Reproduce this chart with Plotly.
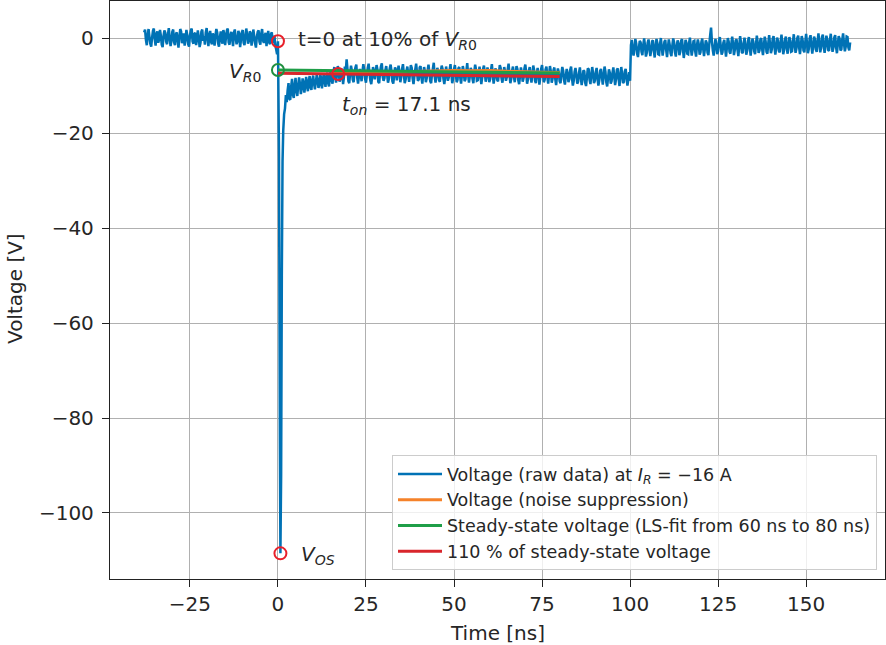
import plotly.graph_objects as go

# ---------------- data ----------------
t_step = 0.25  # sampling interval of the raw trace [ns]

# raw voltage before the switching event (ends at t = -0.25 ns)
t_pre_end = -0.25
v_pre = [1.2, 1.8, -0.4, -1.5, 0.6, 1.9, 0.3, -1.2, -1.8, 0.1, 1.5, 2.0, -0.2, -1.6, 0.9, 1.4, -1.0, -0.3, 1.7, 0.5,
         -1.4, -1.9, 0.4, 1.6, 1.1, -0.8, -1.3, 0.7, 2.1, 0.0, -1.7, -0.6, 1.3, 1.8, -0.9, -1.5, 0.8, 1.2, -0.5, -2.0,
         0.3, 1.9, 1.4, -1.1, -0.4, 1.0, -1.6, -0.2, 1.7, 0.6, -1.3, -1.8, 0.5, 1.5, 2.0, -0.7, -1.2, 0.9, 1.1, -1.5,
         -0.3, 1.6, 0.2, -1.9, -1.0, 1.3, 1.8, -0.6, 0.4, -1.4, 1.2, 2.1, -0.1, -1.7, 0.7, 1.5, -0.8, -1.3, 1.0, 0.3,
         -1.6, 0.5, 1.9, 1.2, -1.1, -1.8, 0.1, 1.4, -0.5, -1.2, 1.7, 0.8, -1.5, 0.2, 1.6, 2.0, -0.9, -1.4, 0.6, 1.3,
         -0.2, -1.7, 1.1, 1.8, 0.0, -1.3, -0.7, 1.5, 0.9, -1.9, -0.4, 1.2, 1.7, -1.0, -1.5, 0.4, 2.0, 0.7, -1.2, -0.6,
         1.4, 1.0, -1.6, -0.3, 1.8, 0.5, -1.1, -2.0, 0.2, 1.3, 1.6, -0.8, -1.4, 0.9, 1.9, -0.5, -1.0, 0.6, 1.1, -1.7,
         0.3, 1.5, -0.9, -1.3, 0.8, 1.2, -1.1, -0.4, 0.5, -1.6, -2.4, -3.4]

# switching spike
t_spike = [0.0, 0.3, 0.55, 0.7, 0.9, 1.1, 1.3]
v_spike = [-0.67, -25.0, -85.0, -108.5, -92.0, -50.0, -26.0]

# recovery after the spike (starts at t = 1.5 ns)
t_rec_start = 1.5
v_rec = [-19.5, -16.0, -14.8, -12.0, -13.5, -11.0, -9.5, -12.8, -13.0, -10.2, -8.6, -11.9, -12.6, -9.8, -8.4, -11.2, -12.2, -10.0, -8.3, -9.6,
         -11.8, -10.7, -8.5, -9.3, -11.5, -10.1, -8.2, -9.9, -11.2, -9.0, -8.0, -10.4, -10.9, -8.8, -7.9, -9.6, -10.8, -9.3, -7.8, -8.7,
         -10.5, -9.9, -7.6, -8.4, -10.6, -9.1, -7.5, -8.9, -10.3, -8.2, -7.3, -9.5, -10.2, -8.0, -6.9]

# on-state plateau (ends at t = 100.0 ns)
t_on_end = 100.0
v_on = [-8.9, -9.6, -7.2, -6.1, -8.0, -9.4, -7.7, -5.9, -6.8, -9.2, -8.5, -6.4, -7.3, -9.7, -8.1, -6.0, -7.0, -4.5, -6.6, -9.1,
        -9.5, -7.4, -5.8, -6.9, -8.8, -9.3, -7.1, -6.2, -5.6, -8.3, -9.6, -8.0, -6.5, -7.6, -9.1, -7.0, -5.5, -6.7, -8.6, -9.4,
        -7.8, -6.3, -5.4, -7.5, -9.0, -9.7, -8.2, -6.1, -6.9, -8.7, -7.4, -5.7, -6.6, -9.2, -9.5, -7.2, -6.0, -5.3, -8.1, -9.0,
        -8.4, -6.8, -5.9, -7.7, -9.4, -8.6, -6.4, -5.6, -7.0, -9.1, -9.6, -7.9, -6.2, -6.7, -8.9, -7.3, -5.8, -7.1, -9.3, -8.2,
        -6.5, -5.5, -7.6, -9.5, -8.8, -6.9, -6.0, -7.8, -9.2, -7.5, -5.7, -6.3, -8.5, -9.7, -8.0, -6.6, -5.4, -7.4, -9.0, -8.7,
        -6.2, -5.9, -8.3, -9.6, -7.7, -6.1, -7.0, -9.3, -8.4, -6.8, -5.6, -7.2, -9.1, -9.5, -7.5, -6.4, -5.2, -8.0, -9.4, -7.9,
        -6.3, -6.9, -8.9, -9.2, -7.1, -5.8, -6.5, -8.6, -9.7, -8.1, -6.0, -7.3, -9.0, -8.3, -6.7, -5.5, -7.6, -9.5, -8.5, -6.6,
        -5.7, -7.4, -9.3, -8.8, -6.4, -6.1, -8.2, -9.6, -7.8, -5.9, -6.8, -9.1, -8.7, -7.0, -5.3, -7.7, -9.4, -8.0, -6.3, -6.9,
        -8.6, -9.5, -7.2, -5.6, -6.6, -9.0, -8.9, -7.5, -6.0, -7.9, -9.7, -8.4, -6.5, -5.8, -7.3, -9.2, -8.1, -6.2, -7.1, -9.3,
        -8.7, -6.7, -5.5, -7.6, -9.6, -8.3, -6.4, -6.9, -8.8, -9.1, -7.4, -5.7, -6.3, -8.5, -9.4, -7.8, -6.1, -7.0, -9.0, -8.2,
        -6.6, -5.4, -7.7, -9.5, -8.6, -6.8, -6.0, -8.0, -9.3, -7.5, -5.9, -6.5, -8.9, -9.7, -7.9, -6.2, -7.2, -9.2, -8.4, -6.4,
        -5.6, -7.3, -9.6, -8.7, -6.9, -6.1, -8.1, -9.4, -7.6, -5.8, -6.7, -9.0, -9.5, -7.4, -6.3, -7.8, -9.8, -8.3, -6.5, -5.7,
        -7.5, -9.3, -8.8, -6.6, -6.0, -8.2, -9.6, -7.7, -5.9, -7.0, -9.4, -8.5, -6.8, -6.2, -8.6, -9.9, -7.9, -6.4, -7.2, -9.1,
        -9.5, -7.6, -6.1, -6.9, -8.9, -9.8, -8.0, -6.5, -7.4, -9.3, -8.7, -6.7, -6.0, -8.4, -10.0, -9.0, -7.1, -6.3, -7.8, -9.6,
        -9.2, -7.3, -6.2, -8.1, -9.9, -8.6, -6.8, -7.0, -9.4, -10.1, -8.3, -6.4, -6.6, -8.8, -9.7, -7.7, -6.1, -7.5, -9.5, -9.0,
        -7.2, -6.3, -8.5, -10.0, -8.9, -6.9, -6.5, -8.2, -9.8, -8.0, -6.0, -7.1, -9.3, -10.2, -8.4, -6.6, -7.3, -9.6, -9.1, -7.4,
        -6.2, -8.0, -9.9, -8.7, -6.7, -6.4, -8.6, -10.1, -7.9, -6.1, -7.6, -9.5, -9.2, -7.0, -6.5, -8.3, -10.0, -8.8, -7.2, -9.0]

# after the turn-off step (starts at t = 100.25 ns)
t_post_start = 100.25
v_post = [-1.5, -0.4, -2.8, -3.7, -1.9, -0.2, -1.2, -3.3, -4.0, -2.1, -0.6, -0.9, -2.9, -3.6, -1.4, -0.1, -1.7, -3.9, -3.1, -1.0,
          -0.3, -2.3, -3.8, -2.6, -0.7, -0.5, -2.7, -4.1, -1.8, -0.2, -1.1, -3.4, -3.5, -1.3, 0.0, -1.9, -3.7, -2.4, -0.8, -0.4,
          -2.5, -4.0, -2.0, -0.3, -1.4, -3.2, -3.8, -1.6, -0.1, -0.9, -3.0, -3.9, -1.7, -0.5, -1.2, -3.6, -2.9, -0.6, -0.2, -2.2,
          -4.2, -2.7, -0.4, -1.0, -3.3, -3.4, -1.1, 0.1, -1.8, -3.7, -2.5, -0.7, -0.6, -2.8, -3.9, -1.5, -0.3, -1.3, -3.5, -3.0,
          -0.9, -0.1, -2.1, -3.8, -2.3, -0.5, -1.0, -3.1, -3.6, -1.2, 0.6, 2.2, -0.8, -2.6, -3.7, -1.9, -0.2, -1.4, -3.4, -2.8,
          -0.6, 0.2, -1.6, -3.5, -3.0, -1.0, -0.4, -2.2, -3.9, -2.0, 0.0, -0.7, -2.9, -3.3, -1.3, 0.3, -1.1, -3.6, -2.5, -0.5,
          -0.3, -2.4, -3.8, -1.7, 0.4, -0.9, -3.0, -3.2, -1.2, 0.1, -1.5, -3.5, -2.7, -0.6, 0.2, -2.0, -3.7, -1.9, -0.1, -0.8,
          -2.8, -3.4, -1.4, 0.5, -1.0, -3.1, -2.6, -0.4, 0.0, -2.3, -3.6, -1.6, 0.3, -0.7, -2.9, -3.3, -1.1, 0.6, -1.3, -3.2,
          -2.4, -0.2, 0.4, -1.8, -3.5, -2.0, 0.1, -0.5, -2.7, -3.0, -1.0, 0.7, -1.2, -3.4, -2.5, -0.3, 0.3, -2.1, -3.3, -1.5,
          0.2, -0.6, -2.9, -2.8, -0.8, 0.8, -1.4, -3.1, -2.2, 0.0, 0.5, -1.9, -3.4, -1.7, 0.4, -0.4, -2.6, -3.0, -0.9, 0.9,
          -1.1, -3.2, -2.3, -0.1, 0.6, -1.6, -3.3, -1.8, 0.3, -0.2, -2.4, -2.9, -0.7, 1.0, -1.0, -3.0, -2.1, 0.2, 0.7, -1.7,
          -3.1, -1.5, 0.5, -0.3, -2.5, -2.7, -0.5, 0.9, -1.2, -2.9, -2.0, 0.1, 0.6, -1.9, -3.2, -1.3, 0.4, -0.1, -2.6, -2.4,
          -0.4, 1.0, -1.1, -2.8, -1.8, 0.3, 0.2, -2.0, -2.6, -0.9]

# noise-suppressed voltage (mostly hidden under the fit lines)
t_smooth = [15, 20, 25, 30, 35, 40, 45, 50, 55, 60, 65, 70, 75, 80]
v_smooth = [-7.2, -7.1, -7.15, -7.05, -7.1, -7.0, -7.0, -6.85, -6.9, -6.85, -7.0, -7.15, -7.2, -7.25]

# steady-state LS fit and 110 %
t_fit = [0, 80]
v_fit = [-6.74, -7.35]
v_fit110 = [-7.41, -8.09]

# markers
t0_point = (0.0, -0.67)
vr0_point = (0.0, -6.74)
ton_point = (17.1, -7.56)
vos_point = (0.7, -108.5)

x_ticks = [-25, 0, 25, 50, 75, 100, 125, 150]
y_ticks = [0, -20, -40, -60, -80, -100]

# ---------------- assemble raw series ----------------
n = len(v_pre)
t_raw = [t_pre_end - t_step * (n - 1 - i) for i in range(n)]
t_raw += t_spike
t_raw += [t_rec_start + i * t_step for i in range(len(v_rec))]
n = len(v_on)
t_raw += [t_on_end - t_step * (n - 1 - i) for i in range(n)]
t_raw += [t_post_start + i * t_step for i in range(len(v_post))]
v_raw = v_pre + v_spike + v_rec + v_on + v_post

BLUE = "#0072b5"
ORANGE = "#f5822a"
GREEN = "#1f9e48"
RED = "#d9262c"
TXT = "#262626"
FONT = "DejaVu Sans"

fig = go.Figure()
fig.add_trace(go.Scatter(x=t_raw, y=v_raw, mode="lines",
                         line=dict(color=BLUE, width=2.5, simplify=False),
                         name="Voltage (raw data) at <i>I</i><sub><i>R</i></sub> = −16 A"))
fig.add_trace(go.Scatter(x=t_smooth, y=v_smooth, mode="lines",
                         line=dict(color=ORANGE, width=3),
                         name="Voltage (noise suppression)"))
fig.add_trace(go.Scatter(x=t_fit, y=v_fit, mode="lines",
                         line=dict(color=GREEN, width=3),
                         name="Steady-state voltage (LS-fit from 60 ns to 80 ns)"))
fig.add_trace(go.Scatter(x=t_fit, y=v_fit110, mode="lines",
                         line=dict(color=RED, width=3),
                         name="110 % of steady-state voltage"))

def circle(pt, color):
    fig.add_trace(go.Scatter(x=[pt[0]], y=[pt[1]], mode="markers", showlegend=False,
                             marker=dict(symbol="circle-open", size=12, color=color,
                                         line=dict(width=2, color=color))))

circle(t0_point, "#e8202a")
circle(vr0_point, "#1f8f3f")
circle(ton_point, "#e8202a")
circle(vos_point, "#e8202a")

ann_font = dict(family=FONT, size=20, color=TXT)
fig.add_annotation(x=5.0, y=t0_point[1], text="t=0 at 10% of <i>V</i><sub><i>R</i>0</sub>",
                   showarrow=False, xanchor="left", yanchor="middle", font=ann_font, yshift=1)
fig.add_annotation(x=-4.3, y=vr0_point[1], text="<i>V</i><sub><i>R</i>0</sub>",
                   showarrow=False, xanchor="right", yanchor="middle", font=ann_font, yshift=-2)
fig.add_annotation(x=17.6, y=-14.1, text="<i>t</i><sub><i>on</i></sub> = 17.1 ns",
                   showarrow=False, xanchor="left", yanchor="middle", font=ann_font)
fig.add_annotation(x=6.0, y=vos_point[1], text="<i>V</i><sub><i>OS</i></sub>",
                   showarrow=False, xanchor="left", yanchor="middle", font=ann_font, yshift=-2)

# axis titles
fig.add_annotation(xref="paper", yref="paper", x=0.5, y=-(633 - 579) / 578,
                   text="Time [ns]", showarrow=False, xanchor="center", yanchor="middle", font=ann_font)
fig.add_annotation(xref="paper", yref="paper", x=-(110 - 15) / 775, y=(579 - 289) / 578,
                   text="Voltage [V]", showarrow=False, textangle=-90,
                   xanchor="center", yanchor="middle", font=ann_font)

axis_common = dict(showline=True, linecolor="#222222", linewidth=1.3, mirror=True,
                   showgrid=True, gridcolor="#b0b0b0", gridwidth=1.3, zeroline=False,
                   ticks="outside", ticklen=7, tickwidth=1.3, tickcolor="#222222",
                   tickfont=dict(family=FONT, size=20, color=TXT))

fig.update_xaxes(range=[-47.7, 172.4], tickvals=x_ticks,
                 ticktext=[str(v).replace("-", "−") for v in x_ticks], **axis_common)
fig.update_yaxes(range=[-113.9, 7.8], tickvals=y_ticks,
                 ticktext=[str(v).replace("-", "−") for v in y_ticks],
                 ticklabelstandoff=4, **axis_common)

fig.update_layout(
    width=886, height=645,
    margin=dict(l=110, r=1, t=1, b=66),
    paper_bgcolor="white", plot_bgcolor="white",
    font=dict(family=FONT, color=TXT),
    legend=dict(x=(877 - 110) / 775, y=(579 - 570) / 578, xanchor="right", yanchor="bottom",
                bgcolor="rgba(255,255,255,0.8)", bordercolor="#cccccc", borderwidth=1,
                itemwidth=44,
                font=dict(family=FONT, size=17.5, color=TXT)),
    showlegend=True,
)

fig.write_html("out.html")
